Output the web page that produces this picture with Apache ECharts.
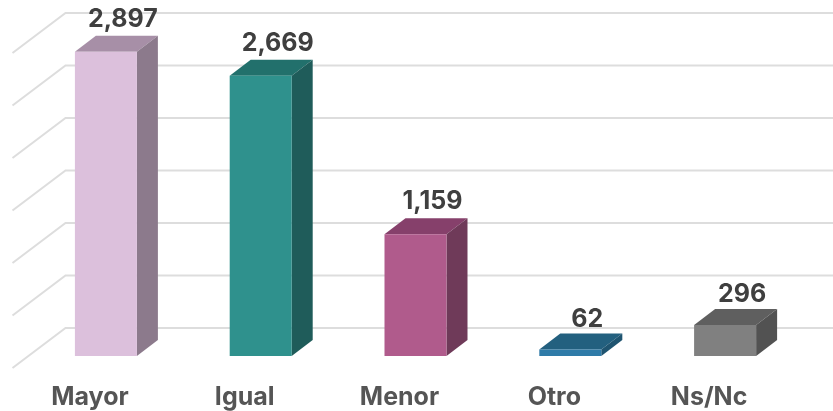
<!DOCTYPE html>
<html>
<head>
<meta charset="utf-8">
<style>html,body{margin:0;padding:0;background:#fff}#c{width:833px;height:411px}</style>
<script src="https://cdn.jsdelivr.net/npm/echarts@6/dist/echarts.min.js"></script>
</head>
<body>
<div id="c"></div>
<script>
const categories = ['Mayor', 'Igual', 'Menor', 'Otro', 'Ns/Nc'];
const values = [2897, 2669, 1159, 62, 296];
const yTicks = [0, 500, 1000, 1500, 2000, 2500, 3000];
const frontColors = ['#dcc0dc', '#2f918d', '#b05b8c', '#2f7ba8', '#808080'];
const topColors = ['#a78fa7', '#22706c', '#86406b', '#23607f', '#5f5f5f'];
const sideColors = ['#8c7a8c', '#1f5c5a', '#6f3a59', '#1f5470', '#525252'];

const FONT = 'Inter';
const wall = { dx: 53, dy: 40 };
const bar = { inset: 16, rise: 12, width: 62, dx: 21, dy: 16 };

const chart = echarts.init(document.getElementById('c'), null, { renderer: 'canvas' });

function renderWall(params, api) {
  const v = api.value(0);
  const cs = params.coordSys;
  const y = api.coord([0, v])[1];
  const x0 = cs.x, x1 = cs.x + wall.dx, x2 = cs.x + cs.width + wall.dx;
  return {
    type: 'polyline',
    shape: { points: [[x0, y], [x1, y - wall.dy], [x2, y - wall.dy]] },
    style: { fill: null, stroke: '#dddddd', lineWidth: 2 },
    silent: true
  };
}

function renderBar(params, api) {
  const i = params.dataIndex;
  const p0 = api.coord([api.value(0), 0]);
  const p1 = api.coord([api.value(0), api.value(1)]);
  const l = p0[0] + bar.inset - bar.width / 2;
  const r = l + bar.width;
  const b = p0[1] - bar.rise;
  const t = p1[1] - bar.rise;
  const dx = bar.dx, dy = bar.dy;
  const gap = values[i] < 1000 ? 14.5 : 16.5;
  return {
    type: 'group',
    children: [
      { type: 'polygon', shape: { points: [[l, t], [r, t], [r + dx, t - dy], [l + dx, t - dy]] },
        style: { fill: topColors[i] } },
      { type: 'polygon', shape: { points: [[r, t], [r + dx, t - dy], [r + dx, b - dy], [r, b]] },
        style: { fill: sideColors[i] } },
      { type: 'rect', shape: { x: l, y: t, width: bar.width, height: b - t },
        style: { fill: frontColors[i] } },
      { type: 'text',
        style: {
          x: (l + r + dx) / 2 + 6.5, y: t - dy - gap,
          text: values[i].toLocaleString('en-US'),
          fill: '#3f3f3f', font: '700 25px ' + FONT,
          align: 'center', verticalAlign: 'middle'
        } }
    ]
  };
}

chart.setOption({
  animation: false,
  backgroundColor: '#ffffff',
  grid: { left: 12.5, right: 46.5, top: 53, bottom: 43 },
  xAxis: {
    type: 'category',
    data: categories,
    axisLine: { show: false },
    axisTick: { show: false },
    axisLabel: { margin: 17, color: '#555555', fontFamily: FONT, fontWeight: 700, fontSize: 25 }
  },
  yAxis: {
    type: 'value', min: 0, max: 3000, interval: 500,
    axisLine: { show: false }, axisTick: { show: false },
    axisLabel: { show: false }, splitLine: { show: false }
  },
  series: [
    { type: 'custom', z: 1, clip: false, silent: true,
      coordinateSystem: 'cartesian2d', encode: { y: 0 },
      data: yTicks.map(v => [v]), renderItem: renderWall },
    { type: 'custom', z: 2, clip: false, silent: true,
      coordinateSystem: 'cartesian2d', encode: { x: 0, y: 1 },
      data: categories.map((c, i) => [i, values[i]]), renderItem: renderBar }
  ]
});
</script>
</body>
</html>
